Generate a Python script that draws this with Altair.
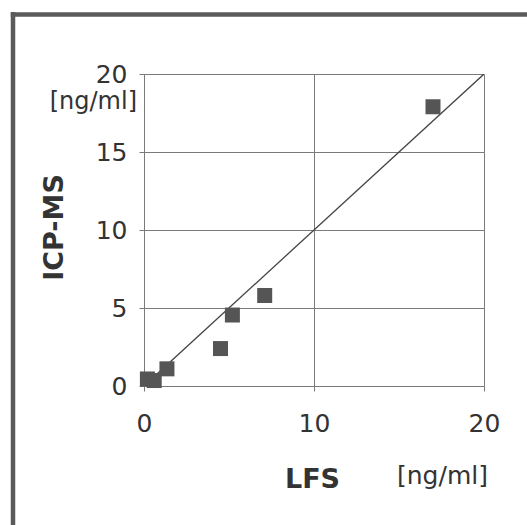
import altair as alt
import pandas as pd

# data
lfs = [0.2, 0.6, 1.35, 4.5, 5.2, 7.1, 17.0]
icpms = [0.45, 0.35, 1.1, 2.4, 4.55, 5.8, 17.9]
line_x = [0, 20]
line_y = [0, 20]
ticks = [0, 5, 10, 15, 20]
xticks = [0, 10, 20]
unit = "[ng/ml]"

pts = pd.DataFrame({"LFS": lfs, "ICP": icpms})
ln = pd.DataFrame({"LFS": line_x, "ICP": line_y})

W, H = 340, 312
FONT = "DejaVu Sans"
GRID = "#7a7a7a"

xs = alt.Scale(domain=[0, 20], nice=False, zero=False)
ys = alt.Scale(domain=[0, 20], nice=False, zero=False)

xaxis = alt.Axis(values=xticks, grid=True, gridColor=GRID, gridWidth=1,
                 domainColor=GRID, tickColor=GRID, tickSize=5,
                 labelFont=FONT, labelFontSize=25, labelColor="#333",
                 labelPadding=20, labelFlush=False,
                 title="LFS", titleFont=FONT, titleFontSize=27, titleFontWeight="bold",
                 titleColor="#333", titleX=168, titleY=101, titleAlign="center",
                 titleBaseline="alphabetic")
yaxis = alt.Axis(values=ticks, grid=True, gridColor=GRID, gridWidth=1,
                 domainColor=GRID, tickColor=GRID, tickSize=5,
                 labelFont=FONT, labelFontSize=25, labelColor="#333",
                 labelPadding=12, labelFlush=False,
                 title="ICP-MS", titleFont=FONT, titleFontSize=27, titleFontWeight="bold",
                 titleColor="#333", titleX=-82, titleY=153, titleAngle=270,
                 titleAlign="center", titleBaseline="alphabetic")

base_line = alt.Chart(ln).mark_line(color="#444", strokeWidth=1.3, clip=True).encode(
    x=alt.X("LFS:Q", scale=xs, axis=xaxis),
    y=alt.Y("ICP:Q", scale=ys, axis=yaxis),
)

squares = alt.Chart(pts).mark_square(size=225, color="#555", opacity=1).encode(
    x=alt.X("LFS:Q", scale=xs),
    y=alt.Y("ICP:Q", scale=ys),
)

units = pd.DataFrame({"t": [unit]})
yunit = alt.Chart(units).mark_text(font=FONT, fontSize=24, color="#333", align="right",
                                   baseline="alphabetic").encode(
    text="t:N", x=alt.value(-7), y=alt.value(35))
xunit = alt.Chart(units).mark_text(font=FONT, fontSize=25, color="#333", align="left",
                                   baseline="alphabetic").encode(
    text="t:N", x=alt.value(253), y=alt.value(410))

frame = pd.DataFrame({"k": [0]})
left_border = alt.Chart(frame).mark_rule(color="#5a5a5a", strokeWidth=4.5).encode(
    x=alt.value(-131), y=alt.value(-62), y2=alt.value(460))
top_border = alt.Chart(frame).mark_rule(color="#5a5a5a", strokeWidth=4.5).encode(
    y=alt.value(-59.5), x=alt.value(-133.2), x2=alt.value(400))

chart = alt.layer(base_line, squares, yunit, xunit, left_border, top_border).properties(
    width=W, height=H,
    autosize=alt.AutoSizeParams(type="none"),
    padding={"left": 144, "top": 74, "right": 43, "bottom": 139},
    background="white",
).configure_view(strokeOpacity=0)

chart.save("out.html", embed_options={"renderer": "svg", "actions": False})
